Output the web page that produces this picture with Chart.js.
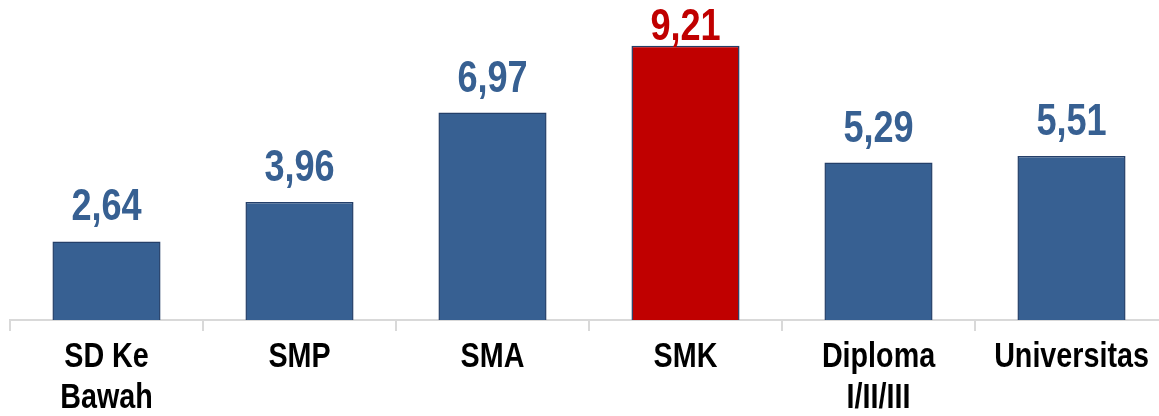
<!DOCTYPE html>
<html>
<head>
<meta charset="utf-8">
<script src="https://cdn.jsdelivr.net/npm/chart.js@4"></script>
<style>
  html, body { margin: 0; padding: 0; background: #fff; overflow: hidden; }
  #wrap { width: 1170px; height: 416px; }
</style>
</head>
<body>
<div id="wrap"><canvas id="chart"></canvas></div>
<script>
// Education levels and their values
const categories = [['SD Ke', 'Bawah'], 'SMP', 'SMA', 'SMK', ['Diploma', 'I/II/III'], 'Universitas'];
const values = [2.64, 3.96, 6.97, 9.21, 5.29, 5.51];
const highlightIndex = 3;

const BLUE = '#376092';
const RED = '#c00000';
const EDGE = '#243f69';
const FONT = '"Liberation Sans", Arial, sans-serif';
const NARROW = 0.82; // horizontal squeeze to get a narrow bold face

const fills = values.map((v, i) => i === highlightIndex ? RED : BLUE);

function narrowText(ctx, txt, x, y) {
  ctx.save();
  ctx.translate(x, y);
  ctx.scale(NARROW, 1);
  ctx.fillText(txt, 0, 0);
  ctx.restore();
}

// values above the bars and the category names under the axis
const textLayer = {
  id: 'textLayer',
  afterDraw(chart) {
    const ctx = chart.ctx;
    const meta = chart.getDatasetMeta(0);
    const xScale = chart.scales.x;
    const axisY = chart.chartArea.bottom;
    ctx.save();
    ctx.textAlign = 'center';
    ctx.textBaseline = 'alphabetic';

    ctx.font = 'bold 44px ' + FONT;
    meta.data.forEach((bar, i) => {
      ctx.fillStyle = fills[i];
      const txt = values[i].toFixed(2).replace('.', ',');
      narrowText(ctx, txt, bar.x, Math.max(bar.y - 21, 40));
    });

    ctx.font = 'bold 35px ' + FONT;
    ctx.fillStyle = '#000';
    categories.forEach((lab, i) => {
      const lines = Array.isArray(lab) ? lab : [lab];
      const x = xScale.getPixelForValue(i);
      lines.forEach((ln, j) => narrowText(ctx, ln, x, axisY + 47 + j * 41));
    });
    ctx.restore();
  }
};

new Chart(document.getElementById('chart'), {
  type: 'bar',
  data: {
    labels: categories,
    datasets: [{
      data: values,
      backgroundColor: fills,
      borderColor: EDGE,
      borderWidth: 1.5,
      borderSkipped: 'bottom',
      barPercentage: 0.56,
      categoryPercentage: 1
    }]
  },
  options: {
    responsive: true,
    maintainAspectRatio: false,
    animation: false,
    layout: { padding: { left: 10, right: 2, top: 0, bottom: 0 } },
    plugins: {
      legend: { display: false },
      tooltip: { enabled: false }
    },
    scales: {
      x: {
        offset: true,
        afterFit(scale) { scale.height = 96; },
        grid: {
          offset: true,
          drawOnChartArea: false,
          color: '#d9d9d9',
          lineWidth: 2,
          tickLength: 11
        },
        border: { color: '#d9d9d9', width: 2 },
        ticks: {
          color: 'rgba(0,0,0,0)', // names are drawn by textLayer
          maxRotation: 0,
          autoSkip: false
        }
      },
      y: {
        display: false,
        min: 0,
        max: 10.75
      }
    }
  },
  plugins: [textLayer]
});
</script>
</body>
</html>
